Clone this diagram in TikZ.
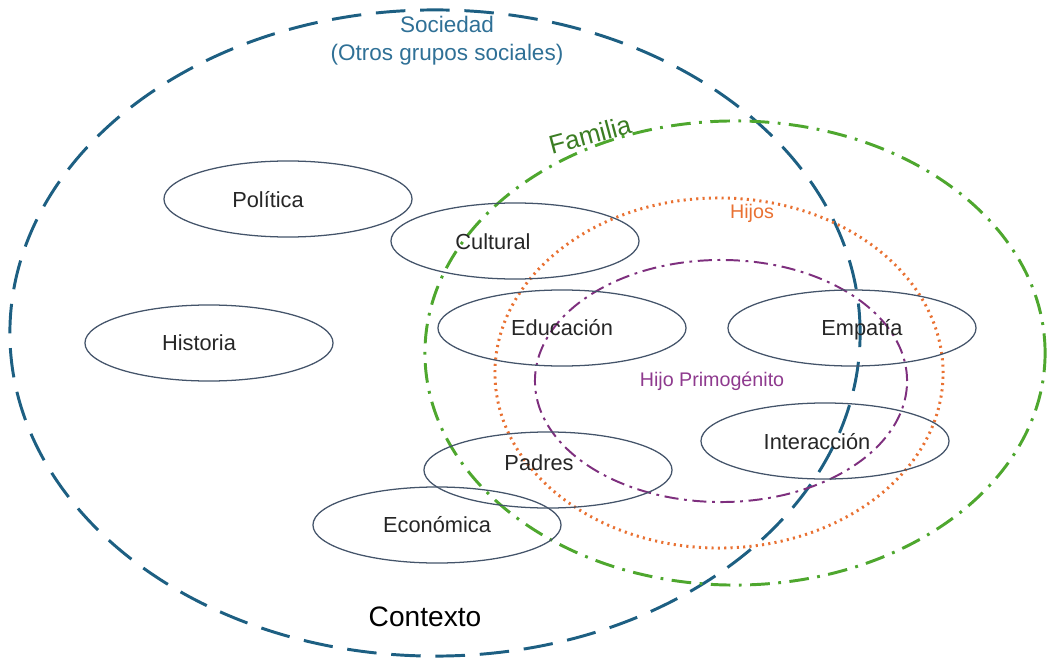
\documentclass[tikz,border=0pt]{standalone}
\usepackage{fontspec}
\setmainfont{Liberation Sans}
\usepackage{tikz}
\usetikzlibrary{shapes.geometric}

\definecolor{socblue}{HTML}{1D5F82}
\definecolor{soctext}{HTML}{2F7096}
\definecolor{famgreen}{HTML}{4EA72E}
\definecolor{famtext}{HTML}{3B7D23}
\definecolor{hijorange}{HTML}{E97132}
\definecolor{primpurple}{HTML}{7E2F7E}
\definecolor{primtext}{HTML}{8E3A8E}
\definecolor{elgray}{HTML}{44546A}

\begin{document}
\begin{tikzpicture}[x=0.025cm, y=-0.025cm,
		elip/.style={ellipse, draw=elgray, line width=0.9pt, minimum width=6.2cm, minimum height=1.9cm, inner sep=0pt},
		eltext/.style={font=\fontsize{15.5}{18}\selectfont, text=black!85}]
		\useasboundingbox (0, 0) rectangle (1050, 669);

		% circulos grandes
		\draw[socblue, line width=2.1pt, dash pattern=on 21pt off 10.5pt] (435, 333) ellipse [x radius=10.625cm, y radius=8.075cm];
		\draw[famgreen, line width=2.1pt, dash pattern=on 14pt off 6pt on 2pt off 6pt] (735, 353) ellipse [x radius=7.75cm, y radius=5.8cm];
		\draw[hijorange, line width=2.1pt, dash pattern=on 1.5pt off 3pt] (719, 373) ellipse [x radius=5.6cm, y radius=4.375cm];
		\draw[primpurple, line width=1.4pt, dash pattern=on 10pt off 4pt on 2pt off 4pt] (721, 381) ellipse [x radius=4.65cm, y radius=3.025cm];

		% etiquetas
		\node[soctext, align=center, font=\fontsize{16}{20}\selectfont] (sociedad) at (447, 41) {Sociedad\\(Otros grupos sociales)};
		\node[famtext, rotate=15, font=\fontsize{18.5}{20}\selectfont] (familia) at (590, 135) {Familia};
		\node[hijorange, font=\fontsize{14}{16}\selectfont] (hijos) at (752, 213) {Hijos};
		\node[primtext, font=\fontsize{14}{16}\selectfont] (primogenito) at (712, 381) {Hijo Primogénito};
		\node[font=\fontsize{20}{22}\selectfont] (contexto) at (425, 617) {Contexto};

		% elipses pequenas
		\foreach \x/\y/\s/\v/\n/\t in {288/199/-20/1/politica/Política, 515/241/-22/1/cultural/Cultural, 209/343/-10/0/historia/Historia,
			562/328/0/0/educacion/Educación, 852/328/10/2/empatia/Empatía, 825/441/-8/1/interaccion/Interacción,
			548/470/-9/-7/padres/Padres, 437/525/0/0/economica/Económica} {
			\node[elip] (\n) at (\x, \y) {};
			\node[eltext] (\n-txt) at (\x+\s, \y+\v) {\t};
		}
	\end{tikzpicture}
\end{document}
